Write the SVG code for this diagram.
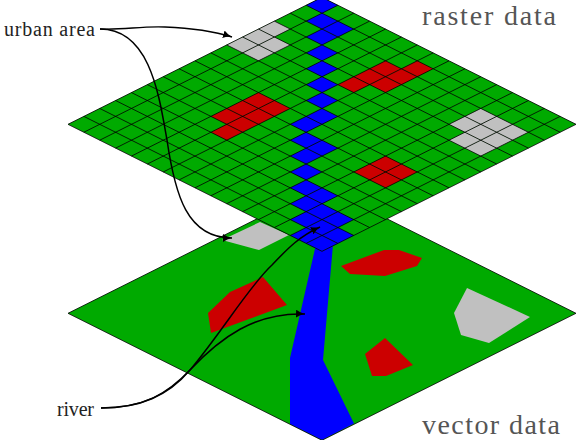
<svg xmlns="http://www.w3.org/2000/svg" width="582" height="440" viewBox="0 0 582 440">
<style>
.g{fill:#00aa00}.r{fill:#cc0000}.b{fill:#0000ff}.y{fill:#c0c0c0}
.grid{fill:none;stroke:#000;stroke-width:.8}
.edge{fill:none;stroke:#000;stroke-width:.8}
.arrow{fill:none;stroke:#000;stroke-width:1.5;marker-end:url(#tip)}
.big{font-family:"Liberation Serif",serif;font-size:28px;fill:#555}
.small{font-family:"Liberation Serif",serif;font-size:20px;fill:#222}
</style>
<defs>
<polygon id="c" points="0,-7.94 15.875,0 0,7.94 -15.875,0"/>
<marker id="tip" markerUnits="userSpaceOnUse" markerWidth="12" markerHeight="10" refX="9" refY="4" orient="auto"><path d="M0,0 Q4,3 9,4 Q4,5 0,8 Z" fill="#000"/></marker>
</defs>
<g id="vector-layer">
<polygon class="g" points="322,186.3 576,313.3 322,440.3 68,313.3"/>
<polygon class="y" points="222,240 260,222 289,235 259,250"/>
<polygon class="r" points="208,313 230,292 263,277 287,305 211,333"/>
<polygon class="r" points="341,266 384,250 399,250 422,258 417,266 385,276 350,274"/>
<polygon class="y" points="467,288 530,317 489,343 461,335 454,313"/>
<polygon class="r" points="385,338 413,365 386,376 372,376 365,354"/>
<polygon class="b" points="317,240 333.4,240 323,360 354,423.5 322,440 290,424 290,358"/>
<polygon class="edge" points="322,186.3 576,313.3 322,440.3 68,313.3"/>
</g>
<g id="raster-layer">
<polygon class="g" points="322,-2.7 576,124.3 322,251.3 68,124.3"/>
<g class="b">
<use href="#c" x="322" y="5.24"/><use href="#c" x="322" y="21.12"/><use href="#c" x="337.88" y="29.06"/><use href="#c" x="322" y="37"/><use href="#c" x="322" y="52.88"/><use href="#c" x="322" y="68.76"/><use href="#c" x="322" y="84.64"/><use href="#c" x="322" y="100.52"/><use href="#c" x="322" y="116.4"/><use href="#c" x="306.13" y="124.34"/><use href="#c" x="306.13" y="140.22"/><use href="#c" x="322" y="148.16"/><use href="#c" x="306.13" y="156.1"/><use href="#c" x="306.13" y="171.98"/><use href="#c" x="306.13" y="187.86"/><use href="#c" x="322" y="195.8"/><use href="#c" x="306.13" y="203.74"/><use href="#c" x="322" y="211.68"/><use href="#c" x="306.13" y="219.62"/><use href="#c" x="337.88" y="219.62"/><use href="#c" x="322" y="227.56"/><use href="#c" x="306.13" y="235.5"/><use href="#c" x="337.88" y="235.5"/><use href="#c" x="322" y="243.44"/>
</g>
<g class="r">
<use href="#c" x="385.5" y="68.76"/><use href="#c" x="417.25" y="68.76"/><use href="#c" x="369.63" y="76.7"/><use href="#c" x="401.38" y="76.7"/><use href="#c" x="385.5" y="84.64"/><use href="#c" x="353.75" y="84.64"/>
<use href="#c" x="258.5" y="100.52"/><use href="#c" x="242.63" y="108.46"/><use href="#c" x="274.38" y="108.46"/><use href="#c" x="226.75" y="116.4"/><use href="#c" x="258.5" y="116.4"/><use href="#c" x="242.63" y="124.34"/><use href="#c" x="226.75" y="132.28"/>
<use href="#c" x="385.5" y="164.04"/><use href="#c" x="369.63" y="171.98"/><use href="#c" x="401.38" y="171.98"/><use href="#c" x="385.5" y="179.92"/>
</g>
<g class="y">
<use href="#c" x="274.38" y="29.06"/><use href="#c" x="258.5" y="37"/><use href="#c" x="242.63" y="44.94"/><use href="#c" x="274.38" y="44.94"/><use href="#c" x="258.5" y="52.88"/>
<use href="#c" x="480.75" y="116.4"/><use href="#c" x="464.88" y="124.34"/><use href="#c" x="496.63" y="124.34"/><use href="#c" x="480.75" y="132.28"/><use href="#c" x="512.5" y="132.28"/><use href="#c" x="464.88" y="140.22"/><use href="#c" x="496.63" y="140.22"/><use href="#c" x="480.75" y="148.16"/>
</g>
<path class="grid" d="M322 -2.7l-254 127M337.88 5.24l-254 127M353.75 13.18l-254 127M369.63 21.12l-254 127M385.5 29.06l-254 127M401.38 37l-254 127M417.25 44.94l-254 127M433.13 52.88l-254 127M449 60.82l-254 127M464.88 68.76l-254 127M480.75 76.7l-254 127M496.63 84.64l-254 127M512.5 92.58l-254 127M528.38 100.52l-254 127M544.25 108.46l-254 127M560.13 116.4l-254 127M576 124.34l-254 127M322 -2.7l254 127M306.13 5.24l254 127M290.25 13.18l254 127M274.38 21.12l254 127M258.5 29.06l254 127M242.63 37l254 127M226.75 44.94l254 127M210.88 52.88l254 127M195 60.82l254 127M179.13 68.76l254 127M163.25 76.7l254 127M147.38 84.64l254 127M131.5 92.58l254 127M115.63 100.52l254 127M99.75 108.46l254 127M83.88 116.4l254 127M68 124.34l254 127"/>
</g>
<g id="labels">
<text class="big" x="422" y="25" textLength="134" lengthAdjust="spacing">raster data</text>
<text class="big" x="422" y="434" textLength="138" lengthAdjust="spacing">vector data</text>
<text class="small" x="4" y="36" textLength="91" lengthAdjust="spacing">urban area</text>
<text class="small" x="57" y="416" textLength="37" lengthAdjust="spacing">river</text>
</g>
<g id="connectors">
<path class="arrow" d="M100,29 C125,30 140,26 165,27 C190,28 210,30 232,37"/>
<path class="arrow" d="M100,29 C150,29 159,95 167,140 C175,195 187,238 232,238"/>
<path class="arrow" d="M101,408 C145,408 168,393 190,370 C220,338 255,312 305,314"/>
<path class="arrow" d="M101,408 C140,408 168,396 190,370 C222,332 250,285 272,265 C288,248 300,236 320,227"/>
</g>
</svg>
